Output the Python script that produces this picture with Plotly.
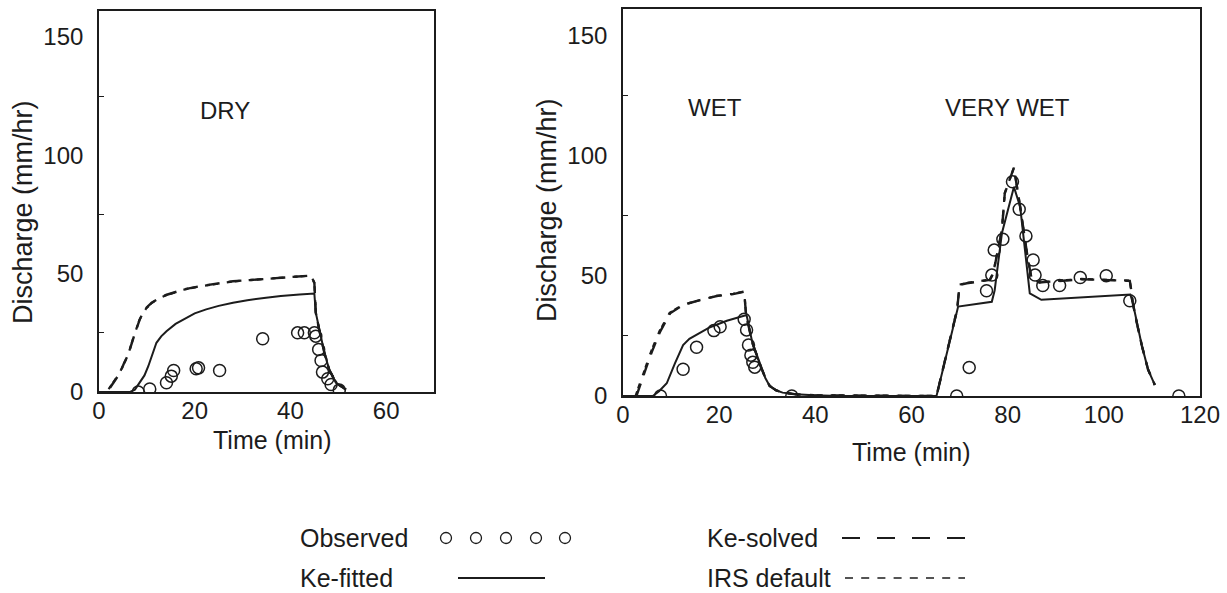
import plotly.graph_objects as go

# ---------------- DATA ----------------
# DRY panel (left)
obs_dry_t = [8.2, 10.6, 14.1, 15.1, 15.6, 20.3, 20.8, 25.2, 34.2, 41.5, 42.9, 45.0, 45.3, 45.9, 46.4, 46.7, 47.8, 48.5, 50.2]
obs_dry_q = [0.0, 1.3, 3.9, 6.7, 9.1, 9.8, 10.2, 9.1, 22.5, 25.0, 25.0, 25.0, 23.6, 18.0, 13.3, 8.4, 5.6, 3.2, 0.8]

fit_dry_t = [0, 6.5, 7.5, 8.5, 9.5, 10.3, 11.2, 12.0, 13.0, 14.1, 16.0, 18.3, 20.0, 22.4, 25.0, 28.0, 31.0,
             34.9, 38.0, 41.9, 45.0, 45.3, 46.0, 47.1, 48.1, 49.5, 51.6]
fit_dry_q = [0, 0, 1.0, 3.9, 7.0, 10.9, 16.0, 20.8, 23.5, 25.7, 28.8, 31.3, 33.2, 34.9, 36.4, 37.7, 38.8,
             39.8, 40.6, 41.2, 41.6, 33.5, 26.4, 16.5, 9.5, 3.9, 1.0]

solved_dry_t = [2.3, 3.2, 4.4, 5.2, 6.1, 7.2, 8.0, 8.5, 9.2, 9.9, 11.0, 12.7, 14.0, 15.5, 18.0, 21.0, 24.5, 28.0,
                31.5, 34.9, 37.5, 40.5, 44.3, 45.0, 45.3, 46.0, 47.1, 48.1, 49.5, 51.6]
solved_dry_q = [1.8, 4.5, 8.1, 12.0, 15.8, 22.9, 28.0, 30.6, 33.5, 35.6, 37.7, 39.8, 41.0, 41.9, 43.5, 44.7, 45.9, 46.8,
                47.3, 47.8, 48.3, 48.7, 49.2, 46.1, 33.5, 26.4, 16.5, 9.5, 3.9, 1.0]

irs_dry_t = [2.0, 3.0, 4.2, 5.1, 6.0, 7.1, 7.9, 8.4, 9.2, 9.9, 11.0, 12.7, 14.0, 15.5, 18.0, 21.0, 24.5, 28.0,
             31.5, 34.9, 37.5, 40.5, 44.3, 45.0, 45.3, 46.0, 47.1, 48.1, 49.5, 51.6]
irs_dry_q = [1.2, 4.0, 7.6, 11.5, 15.2, 22.4, 27.6, 30.2, 33.3, 35.4, 37.6, 39.7, 40.9, 41.8, 43.4, 44.6, 45.8, 46.7,
             47.3, 47.8, 48.3, 48.7, 49.2, 46.1, 33.5, 26.4, 16.5, 9.5, 3.9, 1.0]

# WET / VERY WET panel (right)
obs_wet_t = [7.8, 12.5, 15.3, 18.9, 20.2, 25.2, 25.7, 26.1, 26.6, 27.0, 27.4, 35.1,
             69.4, 72.0, 75.6, 76.7, 77.2, 79.0, 81.0, 82.4, 83.8, 85.3, 85.7, 87.3, 90.8, 95.1, 100.5, 105.4, 115.6]
obs_wet_q = [0.0, 11.1, 20.3, 27.2, 28.8, 31.9, 27.5, 21.2, 17.0, 14.0, 12.0, 0.0,
             0.0, 11.9, 43.8, 50.3, 60.7, 65.2, 89.1, 77.7, 66.6, 56.6, 50.3, 46.0, 46.0, 49.3, 50.0, 39.6, 0.0]

fit_wet_t = [0, 6.2, 7.5, 9.1, 10.8, 12.5, 13.8, 15.3, 18.1, 21.6, 25.7, 26.9, 28.6, 29.6, 30.5, 31.8, 33.2, 36.0, 39.7, 45.0,
             65.2, 69.7, 76.7, 77.3, 78.8, 81.3, 82.6, 84.6, 87.0, 96.0, 105.5, 106.0, 106.8, 107.9, 109.2, 110.6]
fit_wet_q = [0, 0, 2.0, 5.3, 13.6, 21.2, 23.8, 25.4, 28.6, 31.3, 33.7, 22.2, 12.5, 7.5, 4.2, 2.4, 1.4, 0.7, 0.3, 0,
             0, 37.2, 39.2, 44.0, 67.7, 87.0, 78.7, 42.7, 40.0, 41.2, 42.2, 39.0, 31.0, 21.0, 11.0, 4.6]

solved_wet_t = [2.8, 3.9, 4.9, 6.0, 7.7, 9.8, 12.5, 16.0, 19.5, 22.9, 25.2, 25.6, 26.9, 28.6, 29.6, 30.5, 31.8, 33.2,
                36.0, 39.7, 65.2, 69.5, 70.0, 71.5, 76.3, 77.0, 78.8, 79.4, 81.3, 82.6, 84.2, 85.0, 86.6, 95.4,
                105.4, 105.7, 106.0, 106.8, 107.9, 109.2, 110.6]
solved_wet_q = [0, 6.7, 12.2, 18.4, 26.7, 34.4, 37.9, 39.9, 41.6, 42.4, 43.4, 33.7, 22.2, 12.5, 7.5, 4.2, 2.4, 1.4,
                0.7, 0.3, 0, 36.0, 46.2, 46.9, 48.3, 51.0, 69.0, 84.3, 95.0, 78.7, 57.0, 48.6, 47.2, 48.6,
                47.9, 44.0, 39.0, 31.0, 21.0, 11.0, 4.6]

irs_wet_t = [2.6, 3.8, 4.8, 5.9, 7.6, 9.7, 12.5, 16.0, 19.5, 22.9, 25.2, 25.6, 26.9, 28.6, 29.6, 30.5, 31.8, 33.2,
             36.0, 39.7, 65.2, 69.5, 70.0, 71.5, 76.3, 77.0, 78.8, 79.4, 81.3, 82.6, 84.2, 85.0, 86.6, 95.4,
             105.4, 105.7, 106.0, 106.8, 107.9, 109.2, 110.6]
irs_wet_q = [0, 6.9, 12.5, 18.8, 27.0, 34.6, 38.0, 40.0, 41.7, 42.5, 43.5, 33.7, 22.2, 12.5, 7.5, 4.2, 2.4, 1.4,
             0.7, 0.3, 0, 36.2, 46.4, 47.0, 48.4, 51.2, 69.3, 84.5, 95.0, 78.7, 57.0, 48.6, 47.3, 48.7,
             48.0, 44.0, 39.0, 31.0, 21.0, 11.0, 4.6]

x_ticks_dry = [0, 20, 40, 60]
x_ticks_wet = [0, 20, 40, 60, 80, 100, 120]
y_ticks = [0, 50, 100, 150]
y_minor = [25, 75, 125]

panel_labels = [("DRY", "x", "y", 26.3, 119), ("WET", "x2", "y2", 19.2, 120), ("VERY WET", "x2", "y2", 80.0, 120)]

legend_rows = [("Observed", "Ke-solved"), ("Ke-fitted", "IRS default")]

# ---------------- STYLE ----------------
INK = "#1c1c1c"
FONT = "Liberation Sans, Arial, sans-serif"
W, H = 1227, 593

def px_x(p):
    return p / W

def px_y(p):
    return 1 - p / H

fig = go.Figure()

def add_panel(xa, ya, ot, oq, ft, fq, st, sq, it, iq):
    fig.add_trace(go.Scatter(x=it, y=iq, mode="lines", xaxis=xa, yaxis=ya, showlegend=False,
                             line=dict(color=INK, width=2.2, dash="5px,3px,5px,9px")))
    fig.add_trace(go.Scatter(x=st, y=sq, mode="lines", xaxis=xa, yaxis=ya, showlegend=False,
                             line=dict(color=INK, width=2.4, dash="13px,9px")))
    fig.add_trace(go.Scatter(x=ft, y=fq, mode="lines", xaxis=xa, yaxis=ya, showlegend=False,
                             line=dict(color=INK, width=2.0)))
    fig.add_trace(go.Scatter(x=ot, y=oq, mode="markers", xaxis=xa, yaxis=ya, showlegend=False,
                             marker=dict(symbol="circle-open", size=12, color=INK, line=dict(width=1.5, color=INK))))

add_panel("x", "y", obs_dry_t, obs_dry_q, fit_dry_t, fit_dry_q, solved_dry_t, solved_dry_q, irs_dry_t, irs_dry_q)
add_panel("x2", "y2", obs_wet_t, obs_wet_q, fit_wet_t, fit_wet_q, solved_wet_t, solved_wet_q, irs_wet_t, irs_wet_q)

# legend glyphs on a hidden pixel-space axis
fig.add_trace(go.Scatter(x=[446, 476, 506, 536, 565], y=[538] * 5, mode="markers", xaxis="x3", yaxis="y3",
                         showlegend=False, marker=dict(symbol="circle-open", size=11, color=INK, line=dict(width=1.3))))
fig.add_trace(go.Scatter(x=[458, 545], y=[578, 578], mode="lines", xaxis="x3", yaxis="y3", showlegend=False,
                         line=dict(color=INK, width=1.8)))
fig.add_trace(go.Scatter(x=[842, 965], y=[538, 538], mode="lines", xaxis="x3", yaxis="y3", showlegend=False,
                         line=dict(color=INK, width=1.8, dash="18px,17px")))
fig.add_trace(go.Scatter(x=[845, 965], y=[578, 578], mode="lines", xaxis="x3", yaxis="y3", showlegend=False,
                         line=dict(color=INK, width=1.6, dash="8px,8.2px")))

axis_common = dict(showline=True, mirror=True, linecolor=INK, linewidth=1.6, showgrid=False, zeroline=False,
                   ticks="", tickfont=dict(family=FONT, size=24, color=INK), automargin=False)

fig.update_layout(
    width=W, height=H, margin=dict(l=0, r=0, t=0, b=0),
    paper_bgcolor="white", plot_bgcolor="rgba(0,0,0,0)",
    font=dict(family=FONT, color=INK),
    xaxis=dict(domain=[px_x(99), px_x(434)], range=[0, 70], tickvals=x_ticks_dry, anchor="y",
               ticklabelstandoff=-4, **axis_common),
    yaxis=dict(domain=[px_y(392), px_y(11)], range=[0, 161], tickvals=y_ticks, anchor="x",
               ticklabelstandoff=9,
               minor=dict(tickvals=y_minor, ticks="inside", ticklen=5, tickcolor=INK, tickwidth=1.4),
               **axis_common),
    xaxis2=dict(domain=[px_x(623), px_x(1200)], range=[0, 120], tickvals=x_ticks_wet, anchor="y2",
                ticklabelstandoff=-4, **axis_common),
    yaxis2=dict(domain=[px_y(396), px_y(9)], range=[0, 161], tickvals=y_ticks, anchor="x2",
                ticklabelstandoff=9,
                minor=dict(tickvals=y_minor, ticks="inside", ticklen=5, tickcolor=INK, tickwidth=1.4),
                **axis_common),
    xaxis3=dict(domain=[0, 1], range=[0, W], visible=False, fixedrange=True),
    yaxis3=dict(domain=[0, 1], range=[H, 0], visible=False, fixedrange=True),
)

annotations = []
for text, xr, yr, xv, yv in panel_labels:
    annotations.append(dict(text=text, x=xv, y=yv, xref=xr, yref=yr, showarrow=False,
                            font=dict(family=FONT, size=24, color=INK), xanchor="center", yanchor="middle"))

for cx, cy, txt in [(23, 212, "Discharge (mm/hr)"), (547, 210, "Discharge (mm/hr)")]:
    annotations.append(dict(text=txt, x=px_x(cx), y=px_y(cy), xref="paper", yref="paper", showarrow=False,
                            textangle=-90, font=dict(family=FONT, size=27, color=INK),
                            xanchor="center", yanchor="middle"))
for cx, cy in [(272, 440), (911, 452)]:
    annotations.append(dict(text="Time (min)", x=px_x(cx), y=px_y(cy), xref="paper", yref="paper",
                            showarrow=False, font=dict(family=FONT, size=25, color=INK),
                            xanchor="center", yanchor="middle"))

for (left_txt, right_txt), cy in zip(legend_rows, [538, 578]):
    for txt, lx in [(left_txt, 298), (right_txt, 705)]:
        annotations.append(dict(text=txt, x=px_x(lx), y=px_y(cy), xref="paper", yref="paper", showarrow=False,
                                font=dict(family=FONT, size=25, color=INK), xanchor="left", yanchor="middle"))

fig.update_layout(annotations=annotations)

fig.write_html("out.html", config={"displayModeBar": False},
               post_script="document.body.style.margin='0px';document.body.style.overflow='hidden';")
